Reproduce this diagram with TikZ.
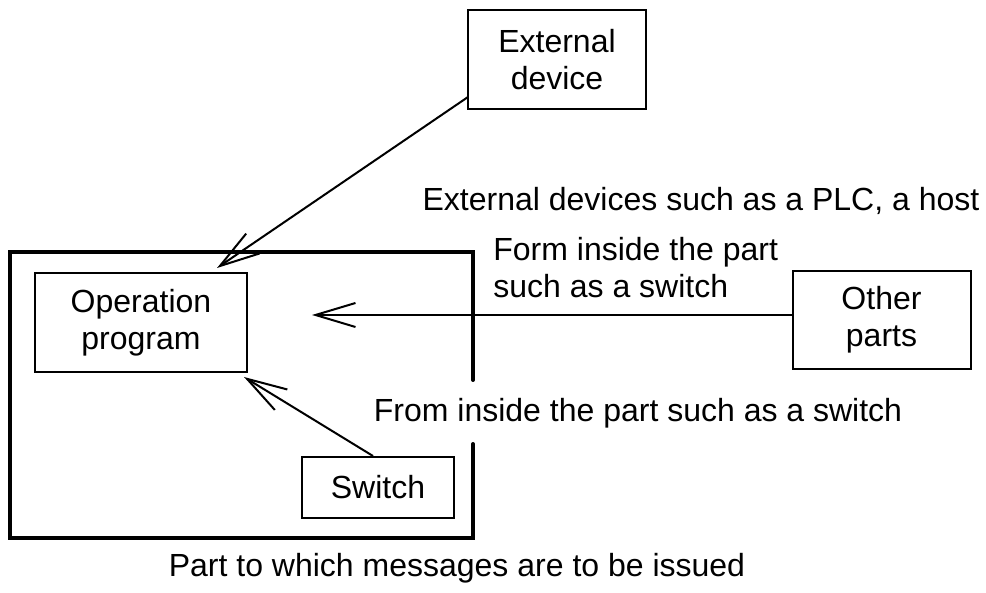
\documentclass[tikz,border=0pt]{standalone}
\usepackage{fontspec}
\setmainfont{Liberation Sans}
\usetikzlibrary{arrows.meta}

\begin{document}
\begin{tikzpicture}[x=0.5pt, y=-0.5pt,
  every node/.style={font=\fontsize{16}{18.5}\selectfont, align=center, inner sep=0pt},
  unit/.style={draw, line width=1pt, minimum width=#1},
  unit/.default=89pt,
  msg/.style={line width=1pt, -{Straight Barb[length=20pt, width=12pt, line width=1pt]}}]
\useasboundingbox (0,0) rectangle (986,593);
% part that issues the messages
\draw[line width=2pt, line cap=round] (473,380) -- (473,252) -- (10,252) -- (10,538) -- (473,538) -- (473,444);
\node[unit=106pt, minimum height=49.5pt] (opprog) at (141,322.5) {Operation\\program};
\node[unit=76pt, minimum height=30.5pt] (switch) at (378,487.5) {Switch};
\node[unit, minimum height=49.5pt] (ext) at (557,59.5) {External\\device};
\node[unit, minimum height=49pt] (other) at (881.5,320) {Other\\parts};
% labels
\node (lblext) at (701,201) {External devices such as a PLC, a host};
\node[anchor=west, align=left] (lblform) at (493,268) {Form inside the part\\such as a switch};
\node (lblfrom) at (638,413) {From inside the part such as a switch};
\node (lblpart) at (457,568) {Part to which messages are to be issued};
% arrows
\coordinate (extout) at (468,97);
\coordinate (exttip) at (217,268);
\coordinate (othertip) at (312,315);
\coordinate (switchtip) at (244,377);
\draw[msg] (extout) -- (exttip);
\draw[msg] (other.west |- othertip) -- (othertip);
\draw[msg] ([xshift=-2.5pt]switch.north) -- (switchtip);
\end{tikzpicture}
\end{document}
